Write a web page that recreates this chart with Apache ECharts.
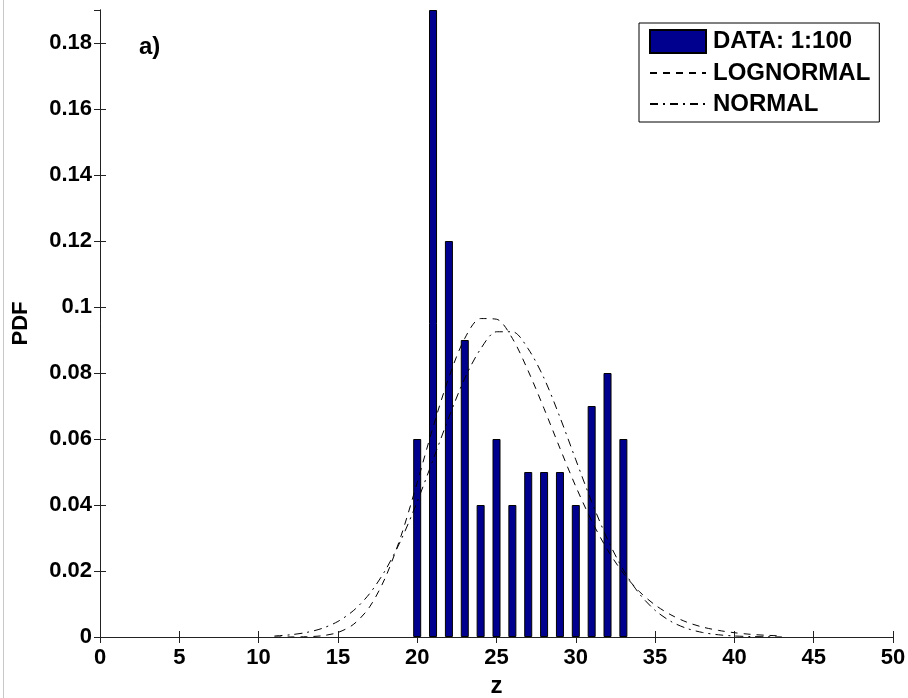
<!DOCTYPE html>
<html>
<head>
<meta charset="utf-8">
<script src="https://cdn.jsdelivr.net/npm/echarts@6/dist/echarts.min.js"></script>
<style>
html,body{margin:0;padding:0;background:#fff;}
#chart{width:908px;height:698px;}
</style>
</head>
<body>
<div id="chart"></div>
<script>
// ---- data ----
var binCenters = [20, 21, 22, 23, 24, 25, 26, 27, 28, 29, 30, 31, 32, 33];
var binPdf     = [0.06, 0.19, 0.12, 0.09, 0.04, 0.06, 0.04, 0.05, 0.05, 0.05, 0.04, 0.07, 0.08, 0.06];

var curveZ = [11, 12, 13, 14, 15, 16, 17, 18, 19, 20, 21, 22, 23, 24, 25, 26, 27,
              28, 29, 30, 31, 32, 33, 34, 35, 36, 37, 38, 39, 40, 41, 42, 43];
var lognormalPdf = [0.000001, 0.00001, 0.00008, 0.00038, 0.00137, 0.00389, 0.00912, 0.0181,
                    0.0309, 0.0468, 0.0636, 0.0787, 0.0905, 0.0965, 0.0963, 0.0905, 0.0806,
                    0.0692, 0.0572, 0.0456, 0.0352, 0.0264, 0.0193, 0.0138, 0.0097, 0.0067,
                    0.0045, 0.0030, 0.0020, 0.0013, 0.00082, 0.00052, 0.00033];
var normalPdf = [0.00031, 0.00067, 0.00136, 0.0026, 0.00471, 0.00808, 0.01315, 0.0203,
                 0.0296, 0.0410, 0.0537, 0.0666, 0.0784, 0.0873, 0.0925, 0.0925, 0.0873,
                 0.0784, 0.0666, 0.0537, 0.0410, 0.0296, 0.0203, 0.01315, 0.00808, 0.00471,
                 0.0026, 0.00136, 0.00067, 0.00031, 0.00014, 0.00006, 0.00002];

var seriesNames = ['DATA: 1:100', 'LOGNORMAL', 'NORMAL'];
var panelLabel = 'a)';
var xName = 'z';
var yName = 'PDF';

function pairs(xs, ys) { return xs.map(function (x, i) { return [x, ys[i]]; }); }

var FONT = '"Liberation Sans", Arial, Helvetica, sans-serif';
var AX = '#222';
var NONE = 'rgba(0,0,0,0)';

var chart = echarts.init(document.getElementById('chart'), null, {renderer: 'canvas'});
chart.setOption({
  animation: false,
  backgroundColor: '#fff',
  textStyle: {fontFamily: FONT},
  title: {
    text: panelLabel, left: 134, top: 30,
    textStyle: {fontFamily: FONT, fontSize: 24, fontWeight: 'bold', color: '#000'}
  },
  graphic: [{
    type: 'line', shape: {x1: 3.5, y1: 0, x2: 3.5, y2: 698},
    style: {stroke: '#c8c8c8', lineWidth: 1}, silent: true
  }],
  grid: {left: 100, right: 15, top: 10, bottom: 61, containLabel: false, outerBoundsMode: 'none'},
  legend: {
    orient: 'vertical', left: 639, top: 23,
    padding: [6, 9, 6, 10],
    itemWidth: 56, itemHeight: 23, itemGap: 7,
    borderColor: '#000', borderWidth: 1, backgroundColor: '#fff',
    textStyle: {fontFamily: FONT, fontSize: 24, fontWeight: 'bold', color: '#000', padding: [0, 0, 0, 2]},
    data: [{name: seriesNames[0], icon: 'rect'}, {name: seriesNames[1]}, {name: seriesNames[2]}]
  },
  xAxis: [{
    type: 'value', min: 0, max: 50, interval: 5,
    name: xName, nameLocation: 'middle', nameGap: 37,
    nameTextStyle: {fontFamily: FONT, fontSize: 24, fontWeight: 'bold', color: '#000', verticalAlign: 'top'},
    axisLine: {show: true, lineStyle: {color: AX, width: 1}},
    axisTick: {show: true, inside: true, length: 6, lineStyle: {color: AX}},
    axisLabel: {fontFamily: FONT, fontSize: 22, fontWeight: 'bold', color: '#000', margin: 10},
    splitLine: {show: false}
  }, {
    type: 'value', min: 0, max: 50, interval: 5, position: 'top',
    axisLine: {show: true, lineStyle: {color: AX, width: 1}},
    axisTick: {show: true, inside: true, length: 6, lineStyle: {color: AX}},
    axisLabel: {show: false}, splitLine: {show: false}
  }],
  yAxis: [{
    type: 'value', min: 0, max: 0.19, interval: 0.02,
    name: yName, nameLocation: 'middle', nameGap: 68, nameRotate: 90,
    nameTextStyle: {fontFamily: FONT, fontSize: 22, fontWeight: 'bold', color: '#000'},
    axisLine: {show: true, lineStyle: {color: AX, width: 1}},
    axisTick: {show: true, inside: true, length: 6, lineStyle: {color: AX}},
    axisLabel: {fontFamily: FONT, fontSize: 22, fontWeight: 'bold', color: '#000', margin: 8,
                showMaxLabel: false},
    splitLine: {show: false}
  }, {
    type: 'value', min: 0, max: 0.19, interval: 0.02, position: 'right',
    axisLine: {show: true, lineStyle: {color: AX, width: 1}},
    axisTick: {show: true, inside: true, length: 6, lineStyle: {color: AX}},
    axisLabel: {show: false}, splitLine: {show: false}
  }],
  series: [{
    name: seriesNames[0], type: 'bar', xAxisIndex: 0, yAxisIndex: 0,
    data: pairs(binCenters, binPdf), barWidth: 8,
    itemStyle: {color: '#00008F', borderColor: '#000', borderWidth: 1},
    clip: true, z: 2
  }, {
    name: seriesNames[1], type: 'line', xAxisIndex: 0, yAxisIndex: 0,
    data: pairs(curveZ, lognormalPdf), smooth: 0.3, showSymbol: false, symbol: 'circle',
    itemStyle: {color: NONE, borderWidth: 0},
    lineStyle: {color: '#000', width: 1, type: [7, 6]}, z: 3
  }, {
    name: seriesNames[2], type: 'line', xAxisIndex: 0, yAxisIndex: 0,
    data: pairs(curveZ, normalPdf), smooth: 0.3, showSymbol: false, symbol: 'circle',
    itemStyle: {color: NONE, borderWidth: 0},
    lineStyle: {color: '#000', width: 1, type: [8, 5, 2, 5]}, z: 3
  }]
});
</script>
</body>
</html>
